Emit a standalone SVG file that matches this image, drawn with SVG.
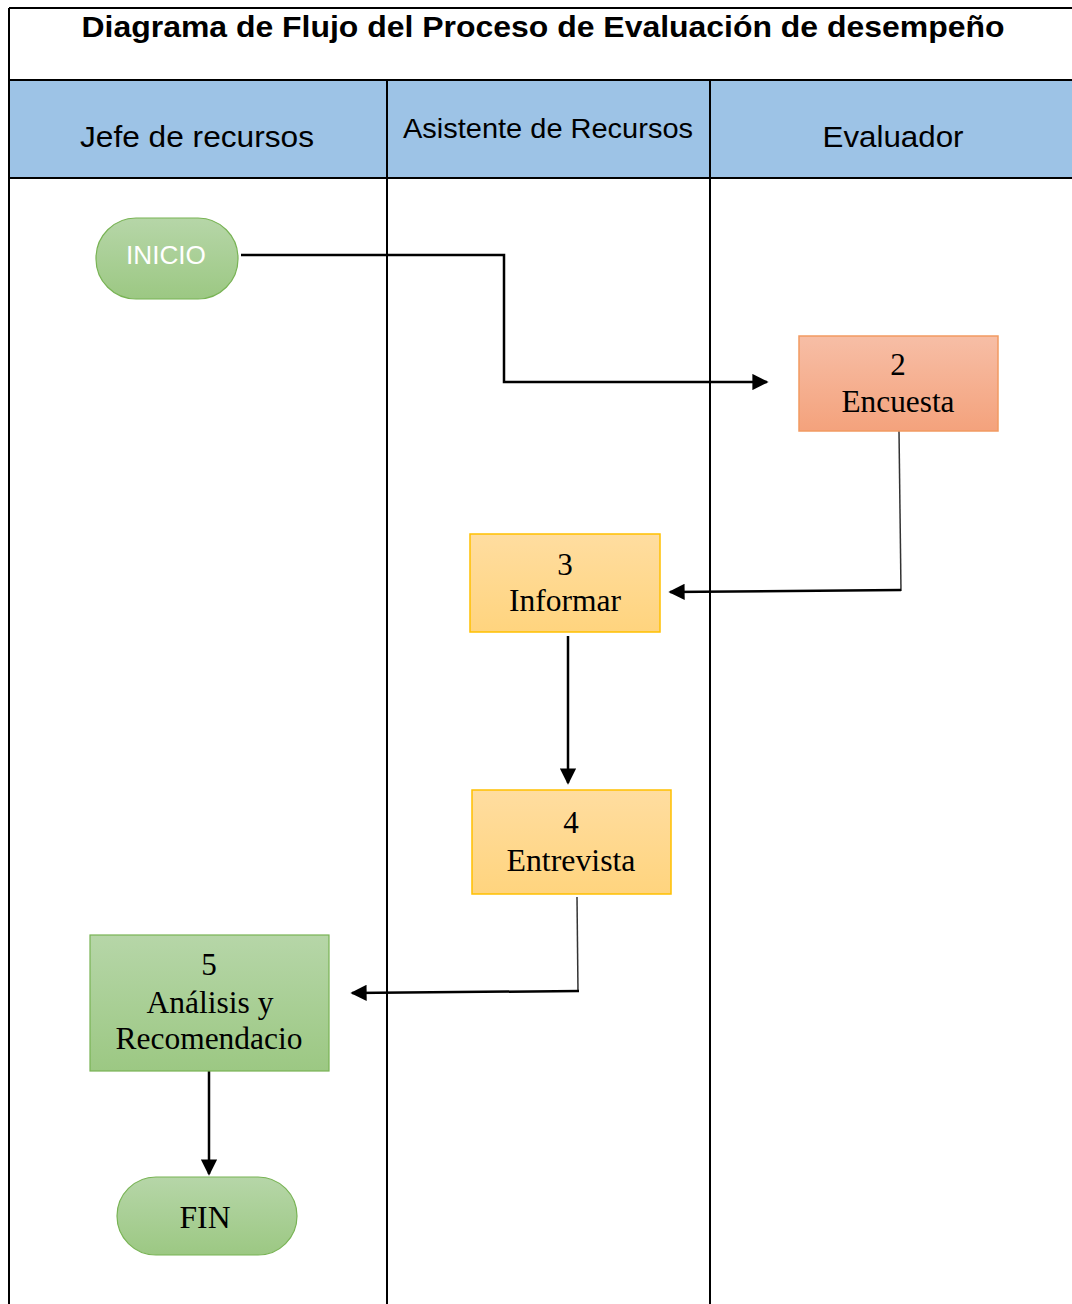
<svg xmlns="http://www.w3.org/2000/svg" width="1072" height="1304" viewBox="0 0 1072 1304">
  <defs>
    <linearGradient id="gGreen" x1="0" y1="0" x2="0" y2="1">
      <stop offset="0" stop-color="#B6D6A8"/>
      <stop offset="1" stop-color="#9CC883"/>
    </linearGradient>
    <linearGradient id="gOrange" x1="0" y1="0" x2="0" y2="1">
      <stop offset="0" stop-color="#F7BEA6"/>
      <stop offset="1" stop-color="#F4A27C"/>
    </linearGradient>
    <linearGradient id="gYellow" x1="0" y1="0" x2="0" y2="1">
      <stop offset="0" stop-color="#FFDDA0"/>
      <stop offset="1" stop-color="#FFD47E"/>
    </linearGradient>
    <marker id="arrow" viewBox="0 0 10 10" refX="9" refY="5" markerWidth="7" markerHeight="6.5" markerUnits="strokeWidth" orient="auto">
      <path d="M0,0 L10,5 L0,10 z" fill="#000"/>
    </marker>
    <style>
      .grid { stroke: #000; stroke-width: 2; fill: none; }
      .hdr { font-family: "Liberation Sans", Arial, sans-serif; fill: #000; text-anchor: middle; }
      .lbl { font-family: "Liberation Serif", "Times New Roman", serif; font-size: 31px; fill: #000; text-anchor: middle; }
      .wire { stroke: #000; stroke-width: 2.5; fill: none; }
      .thin { stroke: #333; stroke-width: 1.5; fill: none; }
    </style>
  </defs>

  <rect width="1072" height="1304" fill="#fff"/>

  <!-- swimlane frame -->
  <g id="frame">
    <rect x="10" y="81" width="1062" height="97" fill="#9DC3E6"/>
    <line class="grid" x1="9" y1="8" x2="1072" y2="8"/>
    <line class="grid" x1="9" y1="8" x2="9" y2="1304"/>
    <line class="grid" x1="9" y1="80" x2="1072" y2="80" stroke-width="2.5"/>
    <line class="grid" x1="9" y1="178" x2="1072" y2="178" stroke-width="2.5"/>
    <line class="grid" x1="387" y1="80" x2="387" y2="1304"/>
    <line class="grid" x1="710" y1="80" x2="710" y2="1304"/>
    <text class="hdr" x="543" y="37" font-size="29" font-weight="bold" textLength="923" lengthAdjust="spacingAndGlyphs">Diagrama de Flujo del Proceso de Evaluación de desempeño</text>
    <text class="hdr" x="197" y="147" font-size="30" textLength="234" lengthAdjust="spacingAndGlyphs">Jefe de recursos</text>
    <text class="hdr" x="548" y="138" font-size="28" textLength="290" lengthAdjust="spacingAndGlyphs">Asistente de Recursos</text>
    <text class="hdr" x="893" y="147" font-size="30" textLength="141" lengthAdjust="spacingAndGlyphs">Evaluador</text>
  </g>

  <!-- connectors -->
  <g id="connectors">
    <polyline class="wire" points="241,255 504,255 504,382 767,382" marker-end="url(#arrow)"/>
    <line class="thin" x1="899" y1="431" x2="901" y2="591"/>
    <line class="wire" x1="901" y1="590" x2="670" y2="592" marker-end="url(#arrow)"/>
    <line class="wire" x1="568" y1="636" x2="568" y2="783" marker-end="url(#arrow)"/>
    <line class="thin" x1="577" y1="897" x2="578" y2="992"/>
    <line class="wire" x1="579" y1="991" x2="352" y2="993" marker-end="url(#arrow)"/>
    <line class="wire" x1="209" y1="1071" x2="209" y2="1174" marker-end="url(#arrow)"/>
  </g>

  <g id="inicio">
    <rect x="96" y="218" width="142" height="81" rx="40" ry="40" fill="url(#gGreen)" stroke="#78B354" stroke-width="1.2"/>
    <text x="166" y="264" font-family="'Liberation Sans', Arial, sans-serif" font-size="25" fill="#fff" text-anchor="middle" textLength="80" lengthAdjust="spacingAndGlyphs">INICIO</text>
  </g>

  <g id="encuesta">
    <rect x="799" y="336" width="199" height="95" fill="url(#gOrange)" stroke="#F29A62" stroke-width="1.5"/>
    <text class="lbl" x="898" y="375">2</text>
    <text class="lbl" x="898" y="412" textLength="113" lengthAdjust="spacingAndGlyphs">Encuesta</text>
  </g>

  <g id="informar">
    <rect x="470" y="534" width="190" height="98" fill="url(#gYellow)" stroke="#FFC000" stroke-width="1.5"/>
    <text class="lbl" x="565" y="575">3</text>
    <text class="lbl" x="565" y="611" textLength="112" lengthAdjust="spacingAndGlyphs">Informar</text>
  </g>

  <g id="entrevista">
    <rect x="472" y="790" width="199" height="104" fill="url(#gYellow)" stroke="#FFC000" stroke-width="1.5"/>
    <text class="lbl" x="571" y="833">4</text>
    <text class="lbl" x="571" y="871" textLength="129" lengthAdjust="spacingAndGlyphs">Entrevista</text>
  </g>

  <g id="analisis">
    <rect x="90" y="935" width="239" height="136" fill="url(#gGreen)" stroke="#78B354" stroke-width="1.2"/>
    <text class="lbl" x="209" y="975">5</text>
    <text class="lbl" x="210" y="1013" textLength="127" lengthAdjust="spacingAndGlyphs">Análisis y</text>
    <text class="lbl" x="209" y="1049" textLength="187" lengthAdjust="spacingAndGlyphs">Recomendacio</text>
  </g>

  <g id="fin">
    <rect x="117" y="1177" width="180" height="78" rx="39" ry="39" fill="url(#gGreen)" stroke="#78B354" stroke-width="1.2"/>
    <text class="lbl" x="205" y="1228" textLength="51" lengthAdjust="spacingAndGlyphs">FIN</text>
  </g>
</svg>
